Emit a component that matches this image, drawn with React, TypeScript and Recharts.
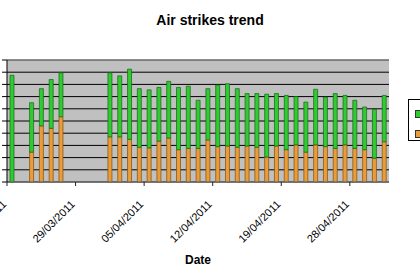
import { BarChart, Bar, XAxis, YAxis, CartesianGrid, ReferenceLine, Label } from 'recharts';

// one entry per day shown on the category axis
const dates = [
  '22/03/2011', '23/03/2011', '24/03/2011', '25/03/2011', '26/03/2011', '27/03/2011', '28/03/2011',
  '29/03/2011', '30/03/2011', '31/03/2011', '01/04/2011', '02/04/2011', '03/04/2011', '04/04/2011',
  '05/04/2011', '06/04/2011', '07/04/2011', '08/04/2011', '09/04/2011', '10/04/2011', '11/04/2011',
  '12/04/2011', '13/04/2011', '14/04/2011', '15/04/2011', '16/04/2011', '17/04/2011', '18/04/2011',
  '19/04/2011', '20/04/2011', '21/04/2011', '22/04/2011', '23/04/2011', '25/04/2011', '26/04/2011',
  '28/04/2011', '29/04/2011', '30/04/2011', '01/05/2011',
];

// orange (bottom) segment
const strikeSorties = [
  null, null, 49, 92, 88, 107, null, null, null, null,
  74, 74, 70, 57, 56, 67, 72, 53, 55, 55,
  69, 58, 59, 57, 59, 57, 41, 59, 53, 61,
  49, 61, 58, 55, 61, 55, 53, 39, 66,
];

// green (top) segment
const otherSorties = [
  175, null, 81, 61, 80, 72, null, null, null, null,
  105, 100, 115, 96, 95, 88, 93, 102, 102, 79,
  84, 101, 102, 96, 86, 88, 103, 86, 89, 79,
  82, 91, 81, 90, 81, 79, 70, 80, 76,
];

const yTicks = [0, 20, 40, 60, 80, 100, 120, 140, 160, 180, 200];

const seriesNames = ['Sorties', 'Strike sorties'];
const GREEN = '#2ecc2e';
const ORANGE = '#eb9c38';
const FONT = 'Liberation Sans, Arial, sans-serif';

const data = dates.map((d, i) => ({
  date: d,
  strike: strikeSorties[i],
  other: otherSorties[i],
}));

const SHIFT = 40; // the y axis value labels are cropped out of the picture
const PLOT_W = 382;
const HALF_BAND = PLOT_W / dates.length / 2;

const DateTick = (props: any) => {
  const { x, y, payload } = props;
  const bx = x - HALF_BAND;
  const ty = y + 23;
  return (
    <g>
      <line x1={bx} x2={bx} y1={y} y2={y + 4} stroke="#222" />
      <text
        x={bx}
        y={ty}
        transform={`rotate(-45, ${bx}, ${ty})`}
        textAnchor="end"
        fontSize={11}
        fontFamily={FONT}
        fill="#000"
      >
        {payload.value}
      </text>
    </g>
  );
};

// tick marks only, the value labels sit outside the visible frame
const NoLabel = () => <g />;

export default function App() {
  return (
    <div style={{ position: 'absolute', left: 0, top: 0, width: 420, height: 280, overflow: 'hidden', background: '#fff' }}>
      <div style={{
        position: 'absolute', left: 0, width: 420, top: 12, textAlign: 'center',
        fontFamily: FONT, fontWeight: 'bold', fontSize: 14,
      }}>
        Air strikes trend
      </div>
      <div style={{ position: 'absolute', left: -SHIFT, top: 0 }}>
        <BarChart
          width={500}
          height={280}
          data={data}
          barSize={4}
          margin={{ top: 60, right: 71, left: 0, bottom: 0 }}
        >
          <CartesianGrid vertical={false} stroke="#000" fill="#c0c0c0" fillOpacity={1} />
          <XAxis
            dataKey="date"
            height={98}
            interval={6}
            tickLine={false}
            tickSize={0}
            tickMargin={0}
            axisLine={{ stroke: '#707070' }}
            tick={<DateTick />}
          >
            <Label
              value="Date"
              position="insideBottom"
              offset={16}
              style={{ fontFamily: FONT, fontWeight: 'bold', fontSize: 12, fill: '#000' }}
            />
          </XAxis>
          <YAxis
            width={47}
            domain={[0, 200]}
            ticks={yTicks}
            interval={0}
            tickSize={5}
            axisLine={{ stroke: '#000' }}
            tickLine={{ stroke: '#000' }}
            tick={<NoLabel />}
          />
          <ReferenceLine y={200} stroke="#9a9a9a" />
          <Bar dataKey="strike" name={seriesNames[1]} stackId="a" fill={ORANGE} stroke="#7a5010" strokeWidth={0.7} isAnimationActive={false} />
          <Bar dataKey="other" name={seriesNames[0]} stackId="a" fill={GREEN} stroke="#17631a" strokeWidth={0.7} isAnimationActive={false} />
        </BarChart>
      </div>
      <div style={{
        position: 'absolute', left: 408, top: 99, width: 90, height: 42,
        border: '1px solid #000', background: '#fff', boxSizing: 'border-box',
        fontFamily: FONT, fontSize: 11,
      }}>
        {[GREEN, ORANGE].map((c, i) => (
          <div key={i} style={{ position: 'absolute', left: 6, top: 8 + i * 20, display: 'flex', alignItems: 'center' }}>
            <span style={{ display: 'inline-block', width: 6, height: 6, background: c, border: '1px solid #333' }} />
            <span style={{ marginLeft: 4 }}>{seriesNames[i]}</span>
          </div>
        ))}
      </div>
    </div>
  );
}
